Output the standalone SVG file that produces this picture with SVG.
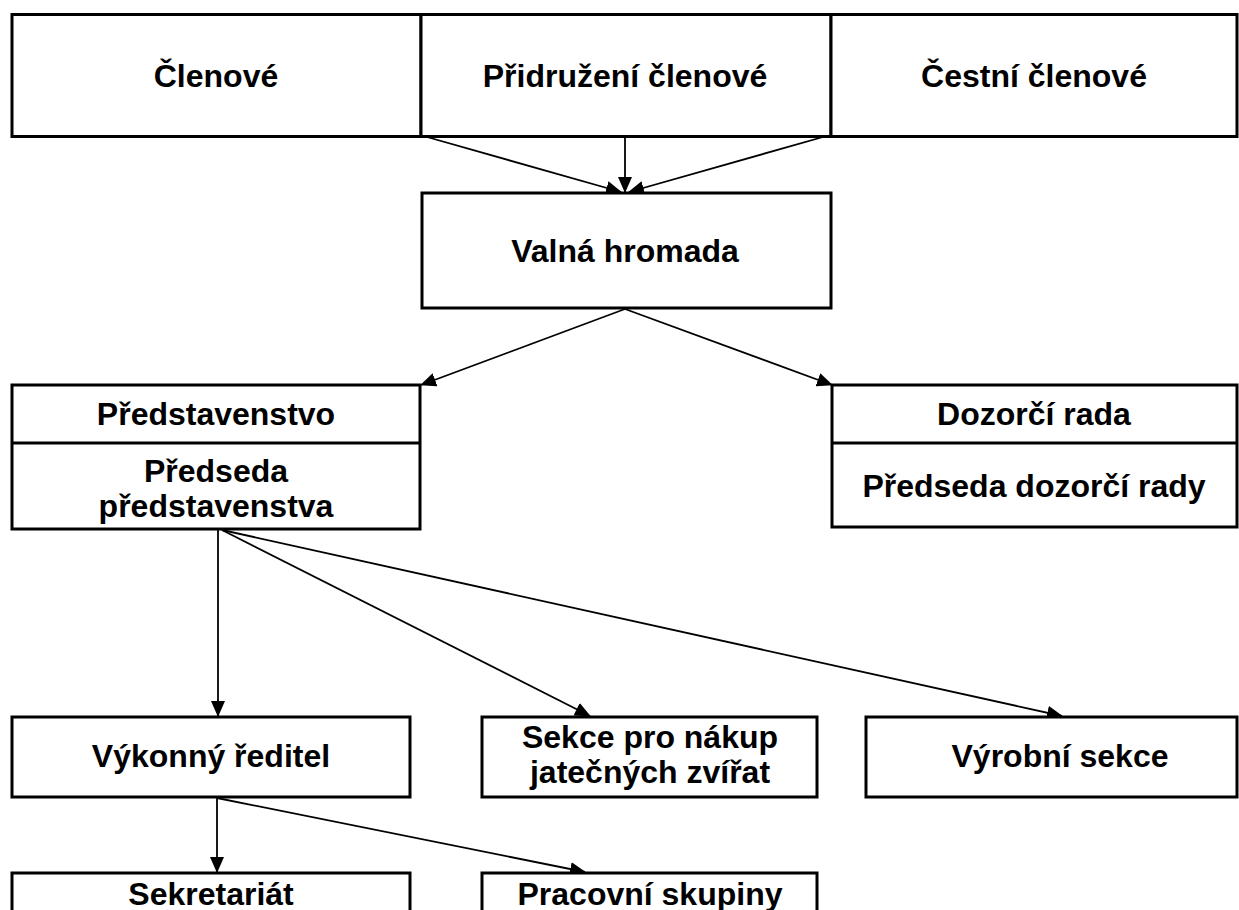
<svg xmlns="http://www.w3.org/2000/svg" width="1239" height="910" viewBox="0 0 1239 910">
<style>
.box{fill:#fff;stroke:#000;stroke-width:3}
.div{stroke:#000;stroke-width:3}
.t{font-family:"Liberation Sans",Arial,sans-serif;font-weight:bold;font-size:32px;fill:#000;text-anchor:middle}
.c{stroke:#000;stroke-width:1.8;fill:none;marker-end:url(#ah)}
</style>
<defs>
<marker id="ah" markerUnits="userSpaceOnUse" markerWidth="16" markerHeight="14" refX="15" refY="7" orient="auto">
<path d="M0,0 L16,7 L0,14 z" fill="#000"/>
</marker>
</defs>
<rect width="1239" height="910" fill="#fff"/>
<g id="connectors">
<line class="c" x1="427" y1="137" x2="621" y2="192"/>
<line class="c" x1="625" y1="137" x2="625" y2="192"/>
<line class="c" x1="823" y1="137" x2="629" y2="192"/>
<line class="c" x1="625" y1="309" x2="421" y2="385"/>
<line class="c" x1="625" y1="309" x2="832" y2="385"/>
<line class="c" x1="218" y1="530" x2="218" y2="716"/>
<line class="c" x1="222" y1="530" x2="590" y2="716"/>
<line class="c" x1="222" y1="530" x2="1062" y2="716"/>
<line class="c" x1="217" y1="798" x2="217" y2="872"/>
<line class="c" x1="217" y1="798" x2="585" y2="872"/>
</g>
<g id="clenove">
<rect class="box" x="12" y="14.5" width="409" height="122"/>
<text class="t" x="216" y="87">Členové</text>
</g>
<g id="pridruzeni">
<rect class="box" x="421" y="14.5" width="410" height="122"/>
<text class="t" x="625" y="87">Přidružení členové</text>
</g>
<g id="cestni">
<rect class="box" x="831" y="14.5" width="406" height="122"/>
<text class="t" x="1034" y="87">Čestní členové</text>
</g>
<g id="valna">
<rect class="box" x="422" y="193" width="409" height="115"/>
<text class="t" x="625" y="262">Valná hromada</text>
</g>
<g id="predstavenstvo">
<rect class="box" x="12" y="385" width="408" height="144"/>
<line class="div" x1="12" y1="443" x2="420" y2="443"/>
<text class="t" x="216" y="425">Představenstvo</text>
<text class="t" x="216" y="482">Předseda</text>
<text class="t" x="216" y="517">představenstva</text>
</g>
<g id="dozorci">
<rect class="box" x="832" y="385" width="405" height="142"/>
<line class="div" x1="832" y1="443" x2="1237" y2="443"/>
<text class="t" x="1034" y="425">Dozorčí rada</text>
<text class="t" x="1034" y="497">Předseda dozorčí rady</text>
</g>
<g id="vykonny">
<rect class="box" x="12" y="717" width="398" height="80"/>
<text class="t" x="211" y="767">Výkonný ředitel</text>
</g>
<g id="sekce">
<rect class="box" x="482" y="717" width="335" height="80"/>
<text class="t" x="650" y="748">Sekce pro nákup</text>
<text class="t" x="650" y="783">jatečných zvířat</text>
</g>
<g id="vyrobni">
<rect class="box" x="866" y="717" width="371" height="80"/>
<text class="t" x="1060" y="767">Výrobní sekce</text>
</g>
<g id="sekretariat">
<rect class="box" x="12" y="873" width="398" height="60"/>
<text class="t" x="211" y="905">Sekretariát</text>
</g>
<g id="pracovni">
<rect class="box" x="482" y="873" width="335" height="60"/>
<text class="t" x="650" y="905">Pracovní skupiny</text>
</g>
</svg>
